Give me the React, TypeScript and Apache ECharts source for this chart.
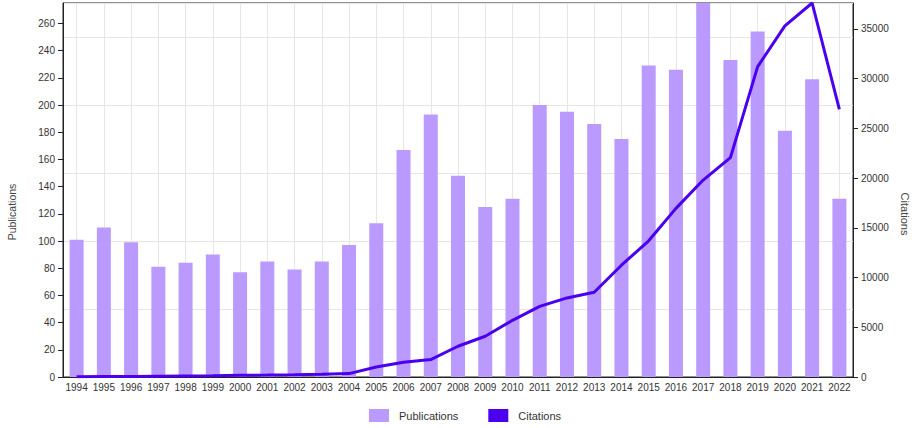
import React, { useEffect, useRef } from "react";
import * as echarts from "echarts";

const years = [
  "1994", "1995", "1996", "1997", "1998", "1999", "2000", "2001", "2002", "2003",
  "2004", "2005", "2006", "2007", "2008", "2009", "2010", "2011", "2012", "2013",
  "2014", "2015", "2016", "2017", "2018", "2019", "2020", "2021", "2022",
];
const publications = [
  101, 110, 99, 81, 84, 90, 77, 85, 79, 85,
  97, 113, 167, 193, 148, 125, 131, 200, 195, 186,
  175, 229, 226, 275, 233, 254, 181, 219, 131,
];
const citations = [
  20, 40, 60, 80, 100, 120, 180, 190, 230, 280,
  340, 1000, 1480, 1750, 3090, 4100, 5700, 7100, 7950, 8520,
  11240, 13690, 16950, 19800, 22050, 31200, 35300, 37600, 26900,
];
const pubMax = 275;
const citMax = 37600;

const FONT = "'Liberation Sans', Arial, sans-serif";

export default function App() {
  const ref = useRef<HTMLDivElement>(null);
  useEffect(() => {
    const chart = echarts.init(ref.current!, null, { renderer: "svg" });
    chart.setOption({
      animation: false,
      textStyle: { fontFamily: FONT },
      grid: {
        left: 63, right: 64, top: 3, bottom: 51,
        show: true, borderColor: "#222", borderWidth: 1, backgroundColor: "transparent",
      },
      legend: {
        left: 364, top: 404,
        itemWidth: 20, itemHeight: 13, itemGap: 30,
        icon: "rect",
        textStyle: { fontFamily: FONT, fontSize: 11, color: "#333", padding: [0, 0, 0, 5] },
        data: ["Publications", "Citations"],
      },
      xAxis: {
        type: "category",
        data: years,
        boundaryGap: true,
        axisLine: { lineStyle: { color: "#222", width: 1 } },
        axisTick: { alignWithLabel: true, length: 5, lineStyle: { color: "#222" } },
        axisLabel: { fontSize: 10, color: "#333", margin: 5, interval: 0, fontFamily: FONT },
        splitLine: { show: true, alignWithLabel: true, lineStyle: { color: "#e6e6e6", width: 1 } },
      },
      yAxis: [
        {
          type: "value", min: 0, max: pubMax, interval: 20, position: "left",
          axisLine: { show: true, lineStyle: { color: "#222" } },
          axisTick: { show: true, length: 5, lineStyle: { color: "#222" } },
          axisLabel: { fontSize: 10, color: "#333", margin: 8, showMaxLabel: false, fontFamily: FONT },
          splitLine: { show: false },
        },
        {
          type: "value", min: 0, max: citMax, interval: 5000, position: "right",
          axisLine: { show: true, lineStyle: { color: "#222" } },
          axisTick: { show: true, length: 5, lineStyle: { color: "#222" } },
          axisLabel: {
            fontSize: 10, color: "#333", margin: 8, showMaxLabel: false, fontFamily: FONT,
            formatter: (v: number) => String(v),
          },
          splitLine: { show: false },
        },
        {
          type: "value", min: 0, max: pubMax, interval: 50, position: "left",
          axisLine: { show: false }, axisTick: { show: false }, axisLabel: { show: false },
          splitLine: { show: true, lineStyle: { color: "#e6e6e6", width: 1 } },
        },
      ],
      series: [
        {
          name: "Publications", type: "bar", data: publications, yAxisIndex: 0,
          barWidth: 14, itemStyle: { color: "#BA9AFF" }, z: 2,
        },
        {
          name: "Citations", type: "line", data: citations, yAxisIndex: 1,
          showSymbol: false, symbol: "none",
          lineStyle: { color: "#4A00EE", width: 3 }, itemStyle: { color: "#4A00EE" }, z: 3,
        },
      ],
      graphic: [
        {
          type: "text", x: 12, y: 212, rotation: Math.PI / 2,
          style: { text: "Publications", fontSize: 10.5, fill: "#444", fontFamily: FONT, align: "center", verticalAlign: "middle" },
        },
        {
          type: "text", x: 905, y: 214, rotation: -Math.PI / 2,
          style: { text: "Citations", fontSize: 11, fill: "#444", fontFamily: FONT, align: "center", verticalAlign: "middle" },
        },
      ],
    });
    return () => chart.dispose();
  }, []);
  return (
    <div
      ref={ref}
      style={{ position: "absolute", left: 0, top: 0, width: 917, height: 428 }}
    />
  );
}
